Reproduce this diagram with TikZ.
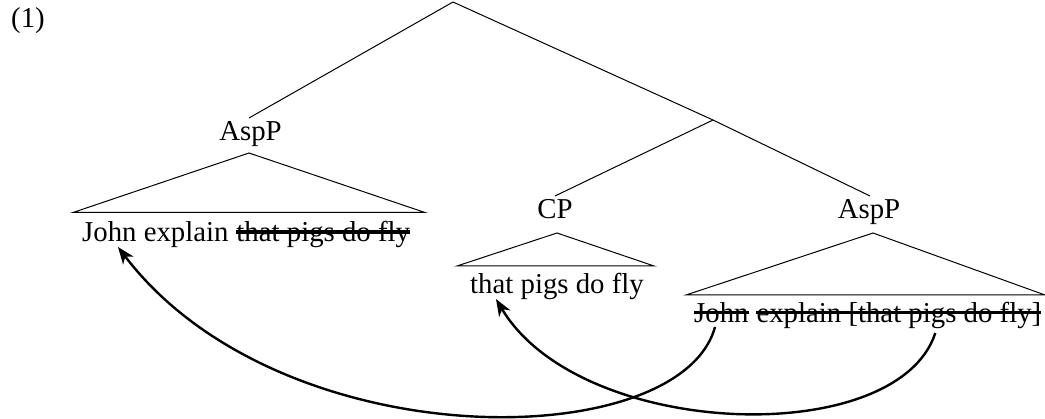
\documentclass[tikz,border=0pt]{standalone}
\usepackage{fontspec}
\setmainfont{Liberation Serif}
\usetikzlibrary{calc,arrows.meta}
\begin{document}
\begin{tikzpicture}[x=1pt,y=-1pt,
  font=\fontsize{28.8}{34}\selectfont,
  txt/.style={inner sep=0pt,anchor=base west},
  lbl/.style={inner sep=0pt,anchor=base},
  branch/.style={line width=1pt},
  strike/.style={line width=3.4pt},
  move/.style={line width=2.4pt,-{Stealth[length=17pt,width=13pt,inset=5pt]}}]
\useasboundingbox (0,0) rectangle (1045,419);
% example number
\node[lbl] (num) at (28,28) {(1)};
% tree junctions
\coordinate (root) at (453,2);
\coordinate (mid) at (713,120);
% labels
\node[lbl] (asp1) at (250.5,141) {AspP};
\node[lbl] (cp) at (555,219) {CP};
\node[lbl] (asp2) at (869,219) {AspP};
\coordinate (asp1top) at (249,118);
\coordinate (cptop) at (555,196);
\coordinate (asp2top) at (870,196);
% branches
\draw[branch] (root) -- (asp1top);
\draw[branch] (root) -- (mid) -- (asp2top);
\draw[branch] (mid) -- (cptop);
% triangles
\coordinate (t1) at (249,153);
\coordinate (t1l) at (73,212.5);
\coordinate (t1r) at (425,212.5);
\draw[branch] (t1l) -- (t1) -- (t1r) -- cycle;
\coordinate (t2) at (557,233);
\coordinate (t2l) at (457,266);
\coordinate (t2r) at (654,266);
\draw[branch] (t2l) -- (t2) -- (t2r) -- cycle;
\coordinate (t3) at (873,233);
\coordinate (t3l) at (686,295);
\coordinate (t3r) at (1045,295);
\draw[branch] (t3l) -- (t3) -- (t3r) -- cycle;
% texts
\node[txt] (l1) at (82,242) {John explain};
\node[txt] (l2) at ($(l1.base east)+(7.5,0)$) {that pigs do fly};
\node[txt] (c1) at (470,294) {that pigs do fly};
\node[txt] (r1) at (694,323) {John};
\node[txt] (r2) at ($(r1.base east)+(7.5,0)$) {explain [that pigs do fly]};
% strikes
\draw[strike] ($(l2.base west)+(0,-10)$) -- ($(l2.base east)+(0,-10)$);
\draw[strike] ($(r1.base west)+(0,-10.5)$) -- ($(r1.base east)+(0,-10.5)$);
\draw[strike] ($(r2.base west)+(0,-10.5)$) -- ($(r2.base east)+(0,-10.5)$);
% movement arrows
\draw[move] ($(r1.base west)+(21,4)$) .. controls +(-35,128) and +(162,213) .. ($(l1.base west)+(36,5)$);
\draw[move] ($(r2.base west)+(179,10)$) .. controls +(-38,117) and +(84,141) .. ($(c1.base west)+(26,5)$);
\end{tikzpicture}
\end{document}
